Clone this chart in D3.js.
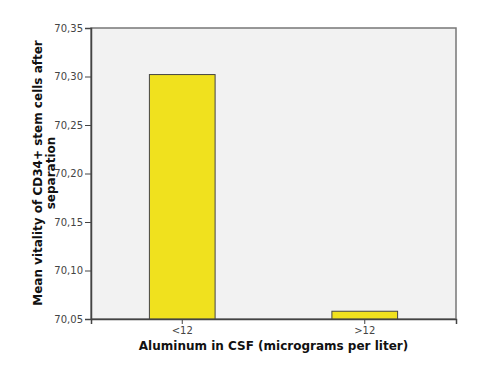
<!DOCTYPE html>
<html>
<head>
<meta charset="utf-8">
<script src="https://cdn.jsdelivr.net/npm/d3@7"></script>
<style>
  body { margin: 0; background: #fff; }
  text { font-family: "DejaVu Sans", sans-serif; }
</style>
</head>
<body>
<svg width="485" height="382"></svg>
<script>
// chart values
var categories = ["<12", ">12"];
var meanVitality = [70.302, 70.058];
var yTicks = [70.05, 70.10, 70.15, 70.20, 70.25, 70.30, 70.35];

var svg = d3.select("svg");
var m = {left: 91, right: 29, top: 28, bottom: 63};
var w = 485 - m.left - m.right, h = 382 - m.top - m.bottom;

var x = d3.scaleBand().domain(categories).range([0, w]).paddingInner(0.64).paddingOuter(0.32);
var y = d3.scaleLinear().domain([70.05, 70.35]).range([h, 0]);
var fmt = function(d) { return d3.format(".2f")(d).replace(".", ","); };

var g = svg.append("g").attr("transform", "translate(" + m.left + "," + m.top + ")");

g.append("rect").attr("width", w).attr("height", h)
  .attr("fill", "#f2f2f2").attr("stroke", "#777").attr("stroke-width", 1.5);

g.selectAll(".bar").data(categories).enter().append("rect")
  .attr("class", "bar")
  .attr("x", d => x(d))
  .attr("width", x.bandwidth())
  .attr("y", (d, i) => y(meanVitality[i]))
  .attr("height", (d, i) => h - y(meanVitality[i]))
  .attr("fill", "#f0e11e").attr("stroke", "#444").attr("stroke-width", 1);

var yAxis = g.append("g").call(d3.axisLeft(y).tickValues(yTicks).tickFormat(fmt).tickSize(6).tickPadding(2));
var xAxis = g.append("g").attr("transform", "translate(0," + h + ")")
  .call(d3.axisBottom(x).tickSize(5).tickPadding(3));
[yAxis, xAxis].forEach(function(a) {
  a.select(".domain").attr("stroke", "#444").attr("stroke-width", 1.5);
  a.selectAll(".tick line").attr("stroke", "#444");
  a.selectAll("text").attr("fill", "#444").style("font-size", "10px");
});

svg.append("text").attr("x", m.left + w / 2).attr("y", 350)
  .attr("text-anchor", "middle").style("font-weight", "bold").style("font-size", "12px")
  .attr("fill", "#111").text("Aluminum in CSF (micrograms per liter)");

var yt = svg.append("text").attr("transform", "translate(42," + 173 + ") rotate(-90)")
  .attr("text-anchor", "middle").style("font-weight", "bold").style("font-size", "12px").attr("fill", "#111");
yt.append("tspan").attr("x", 0).attr("dy", 0).text("Mean vitality of CD34+ stem cells after");
yt.append("tspan").attr("x", 0).attr("dy", 13).text("separation");
</script>
</body>
</html>
